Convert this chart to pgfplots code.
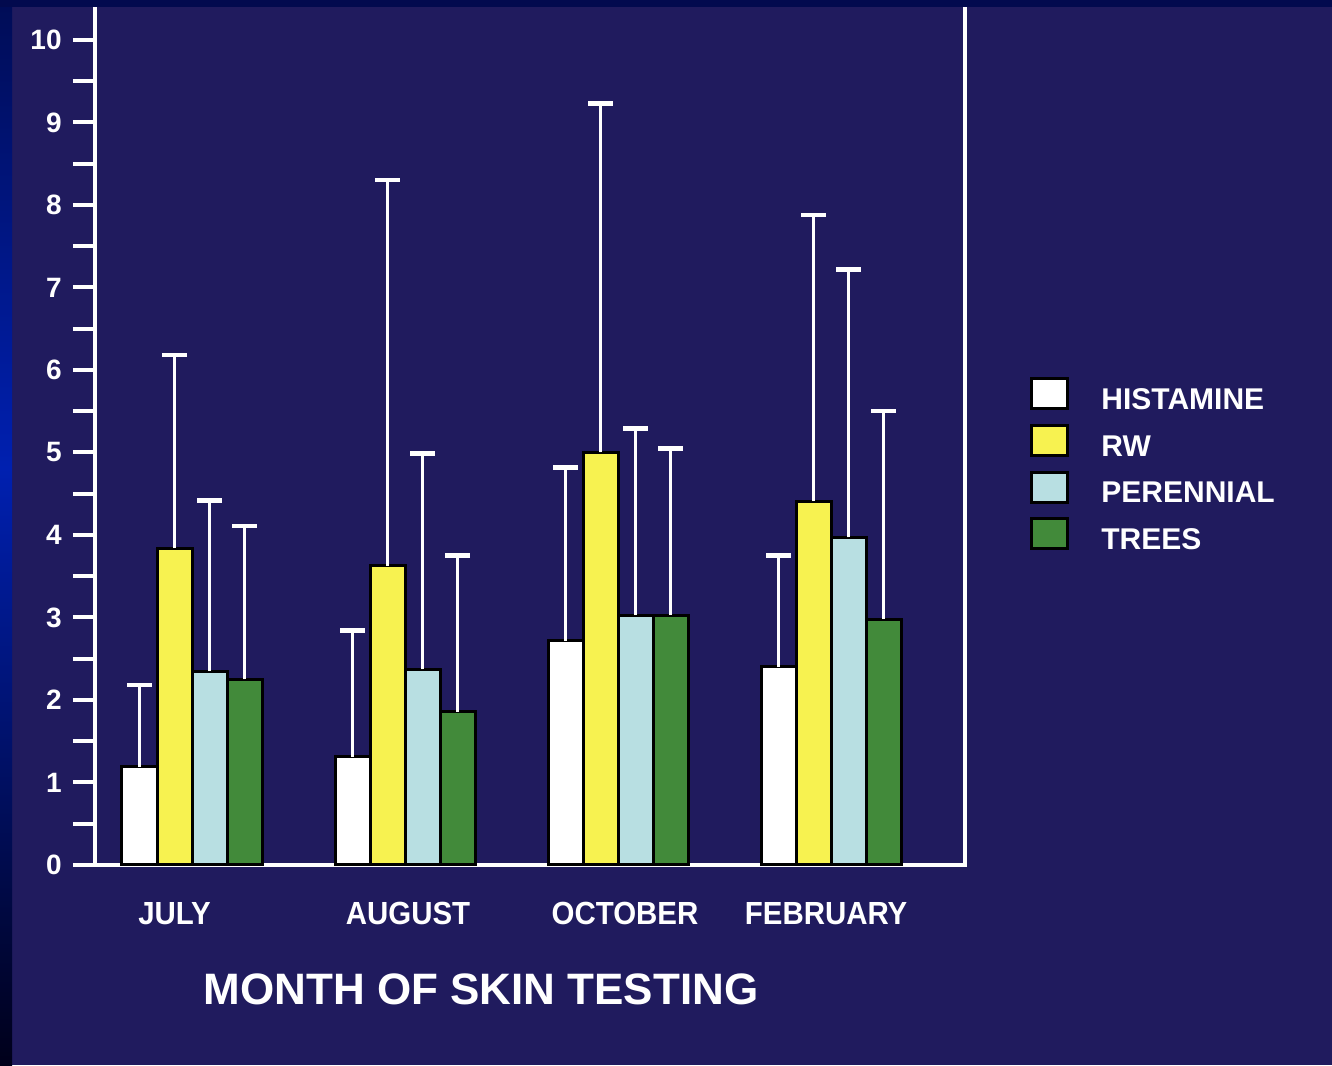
\documentclass[border=0pt]{standalone}
\usepackage{pgfplots}
\usepackage{pgfplotstable}
\pgfplotsset{compat=1.18}
\usepackage{fontspec}
\setmainfont{Liberation Sans}
\newfontfamily\narrowsans{Liberation Sans}[FakeStretch=0.92]

\definecolor{slidebg}{RGB}{32,27,94}
\definecolor{topband}{RGB}{2,10,78}
\definecolor{edgetop}{RGB}{0,12,86}
\definecolor{edgemid}{RGB}{0,32,176}
\definecolor{edgebot}{RGB}{0,0,26}
\definecolor{histamine}{RGB}{255,255,255}
\definecolor{rw}{RGB}{247,242,80}
\definecolor{perennial}{RGB}{184,223,226}
\definecolor{trees}{RGB}{66,138,58}

% glow along the left edge of the slide, brightest a little above the middle
\pgfdeclareverticalshading{edgeglow}{100bp}{%
  color(0bp)=(edgebot); color(25bp)=(edgebot);
  color(53bp)=(edgemid);
  color(75bp)=(edgetop); color(100bp)=(edgetop)}

% mean wheal size and the upper error (SD) for each allergen
\pgfplotstableread{
x  his  hise  rw    rwe   per   pere  tre   tree
0  1.19 0.99  3.84  2.34  2.35  2.07  2.25  1.86
1  1.31 1.53  3.63  4.67  2.37  2.62  1.86  1.89
2  2.72 2.10  5.00  4.23  3.03  2.26  3.03  2.02
3  2.40 1.35  4.41  3.47  3.97  3.25  2.98  2.52
}\skintest

\begin{document}
\begin{tikzpicture}
\useasboundingbox (0,0) rectangle (666pt,532.5pt);
% slide background
\fill[slidebg] (0,0) rectangle (666pt,532.5pt);
\shade[shading=edgeglow] (0,0) rectangle (6pt,532.5pt);

\begin{axis}[
  at={(47.5pt,100pt)}, anchor=south west,
  scale only axis, width=435pt, height=430.5pt,
  xmin=-0.4554, xmax=3.6291, ymin=0, ymax=10.436,
  axis line style={white, line width=1.7pt},
  ybar=0pt, bar width=17.5pt,
  ytick={0,1,...,10},
  minor ytick={0.5,1.5,...,9.5},
  ytick pos=left, tick align=outside,
  major tick length=11pt, minor tick length=11pt,
  tick style={white, line width=2pt},
  xtick={-0.082,1.014,2.033,2.977},
  xticklabels={JULY,AUGUST,OCTOBER,FEBRUARY},
  xtick style={draw=none},
  xticklabel style={anchor=base, inner sep=0pt, yshift=-18.5pt,
    text=white, font=\narrowsans\bfseries\fontsize{16}{16}\selectfont},
  /pgf/number format/assume math mode=true,
  yticklabel style={anchor=east, inner sep=0pt, xshift=-5.5pt, text=white,
    font=\bfseries\fontsize{14}{14}\selectfont},
  xlabel={MONTH OF SKIN TESTING},
  xlabel style={at={(axis description cs:0.4437,-0.1626)}, anchor=base,
    inner sep=0pt, text=white, font=\bfseries\fontsize{22}{22}\selectfont},
  legend style={at={(axis description cs:1.0747,0.5668)}, anchor=north west,
    draw=none, fill=none, inner sep=0pt, text=white,
    font=\bfseries\fontsize{15}{15}\selectfont,
    row sep=6.85pt,
    nodes={inner sep=0pt, text height=10.7pt, text depth=0pt},
    /tikz/every odd column/.append style={column sep=16pt}},
  legend cell align=left,
  legbox/.style={legend image code/.code={
      \draw[##1, line width=1.5pt] (0pt,-5pt) rectangle (18pt,10pt);}},
  every axis plot/.append style={draw=black, line width=1.5pt},
  error bars/y dir=plus,
  error bars/y explicit,
  error bars/error bar style={white, line width=1.6pt},
  error bars/error mark options={white, rotate=90, line width=2.2pt, mark size=6.25pt},
]
\addplot[fill=histamine, legbox] table[x=x, y=his, y error=hise] {\skintest};
\addplot[fill=rw, legbox] table[x=x, y=rw, y error=rwe] {\skintest};
\addplot[fill=perennial, legbox] table[x=x, y=per, y error=pere] {\skintest};
\addplot[fill=trees, legbox] table[x=x, y=tre, y error=tree] {\skintest};
\legend{HISTAMINE, RW, PERENNIAL, TREES}
\end{axis}

% dark band along the top edge of the slide
\fill[topband] (0,529pt) rectangle (666pt,532.5pt);
\end{tikzpicture}
\end{document}
